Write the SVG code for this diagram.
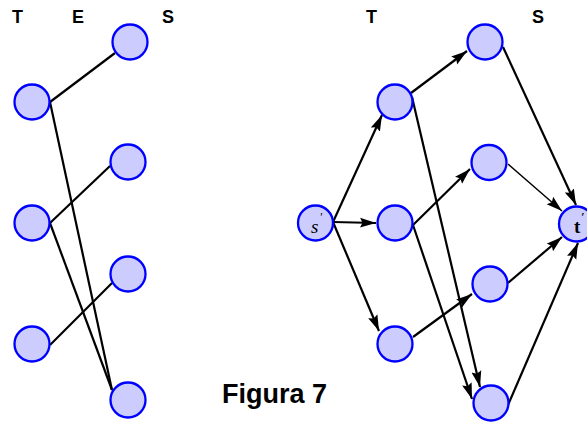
<svg xmlns="http://www.w3.org/2000/svg" width="587" height="425" viewBox="0 0 587 425">
<style>
.node{fill:#ccccff;stroke:#0000ff;stroke-width:2.3}
.e{stroke:#000;stroke-width:2.2;fill:none}
.a{stroke:#000;stroke-width:2.2;fill:none;marker-end:url(#arr)}
.thin{stroke-width:1.4}
.hdr{font-family:"Liberation Sans",Arial,sans-serif;font-weight:bold;font-size:18px;fill:#000}
.cap{font-family:"Liberation Sans",Arial,sans-serif;font-weight:bold;font-size:27px;fill:#000}
.lbl{font-family:"Liberation Serif","Times New Roman",serif;font-size:19px;fill:#000}
</style>
<defs>
<marker id="arr" markerUnits="userSpaceOnUse" markerWidth="18" markerHeight="12" refX="16" refY="5.5" orient="auto">
<path d="M0,0.5 L16,5.5 L0,10.5 L2.5,5.5 z" fill="#000"/>
</marker>
</defs>
<g id="labels">
<text class="hdr" x="12" y="23">T</text>
<text class="hdr" x="72" y="23">E</text>
<text class="hdr" x="162" y="23">S</text>
<text class="hdr" x="366" y="23">T</text>
<text class="hdr" x="532" y="23">S</text>
<text class="cap" x="222" y="403">Figura 7</text>
</g>
<g id="edges">
<line class="e" x1="50" y1="102" x2="115" y2="53"/>
<line class="e" x1="50" y1="102" x2="112" y2="390"/>
<line class="e" x1="50" y1="223" x2="110" y2="166"/>
<line class="e" x1="50" y1="223" x2="112" y2="390"/>
<line class="e" x1="50" y1="345" x2="112" y2="283"/>
<line class="a" x1="333" y1="222" x2="382" y2="115"/>
<line class="a" x1="333" y1="222" x2="376" y2="223"/>
<line class="a" x1="333" y1="222" x2="379" y2="331"/>
<line class="a" x1="411" y1="93" x2="467" y2="51"/>
<line class="a" x1="412" y1="97" x2="480" y2="387"/>
<line class="a" x1="413" y1="225" x2="470" y2="169"/>
<line class="a" x1="413" y1="225" x2="472" y2="399"/>
<line class="a" x1="413" y1="337" x2="472" y2="294"/>
<line class="a" x1="503" y1="47" x2="576" y2="205"/>
<line class="a thin" x1="508" y1="164" x2="562" y2="211"/>
<line class="a" x1="508" y1="283" x2="562" y2="237"/>
<line class="a" x1="508" y1="405" x2="578" y2="243"/>
</g>
<g id="L_T1"><circle class="node" cx="32" cy="102" r="17.5"/></g>
<g id="L_T2"><circle class="node" cx="32" cy="223" r="17.5"/></g>
<g id="L_T3"><circle class="node" cx="32" cy="344" r="17.5"/></g>
<g id="L_S1"><circle class="node" cx="130" cy="42" r="17.5"/></g>
<g id="L_S2"><circle class="node" cx="128" cy="162" r="17.5"/></g>
<g id="L_S3"><circle class="node" cx="128" cy="274" r="17.5"/></g>
<g id="L_S4"><circle class="node" cx="128" cy="400" r="17.5"/></g>
<g id="R_s"><circle class="node" cx="315.5" cy="223" r="17.5"/><text class="lbl" x="311" y="233" font-style="italic">s<tspan font-size="12" dx="1" dy="-12">′</tspan></text></g>
<g id="R_T1"><circle class="node" cx="395" cy="102" r="17.5"/></g>
<g id="R_T2"><circle class="node" cx="395" cy="223" r="17.5"/></g>
<g id="R_T3"><circle class="node" cx="395" cy="344" r="17.5"/></g>
<g id="R_S1"><circle class="node" cx="485" cy="42" r="17.5"/></g>
<g id="R_S2"><circle class="node" cx="489" cy="162.5" r="17.5"/></g>
<g id="R_S3"><circle class="node" cx="490" cy="284" r="17.5"/></g>
<g id="R_S4"><circle class="node" cx="491" cy="403" r="17.5"/></g>
<g id="R_t"><circle class="node" cx="576.5" cy="224" r="17.5"/><text class="lbl" x="574" y="233" font-weight="bold">t<tspan font-size="12" dx="1" dy="-12">′</tspan></text></g>
</svg>
